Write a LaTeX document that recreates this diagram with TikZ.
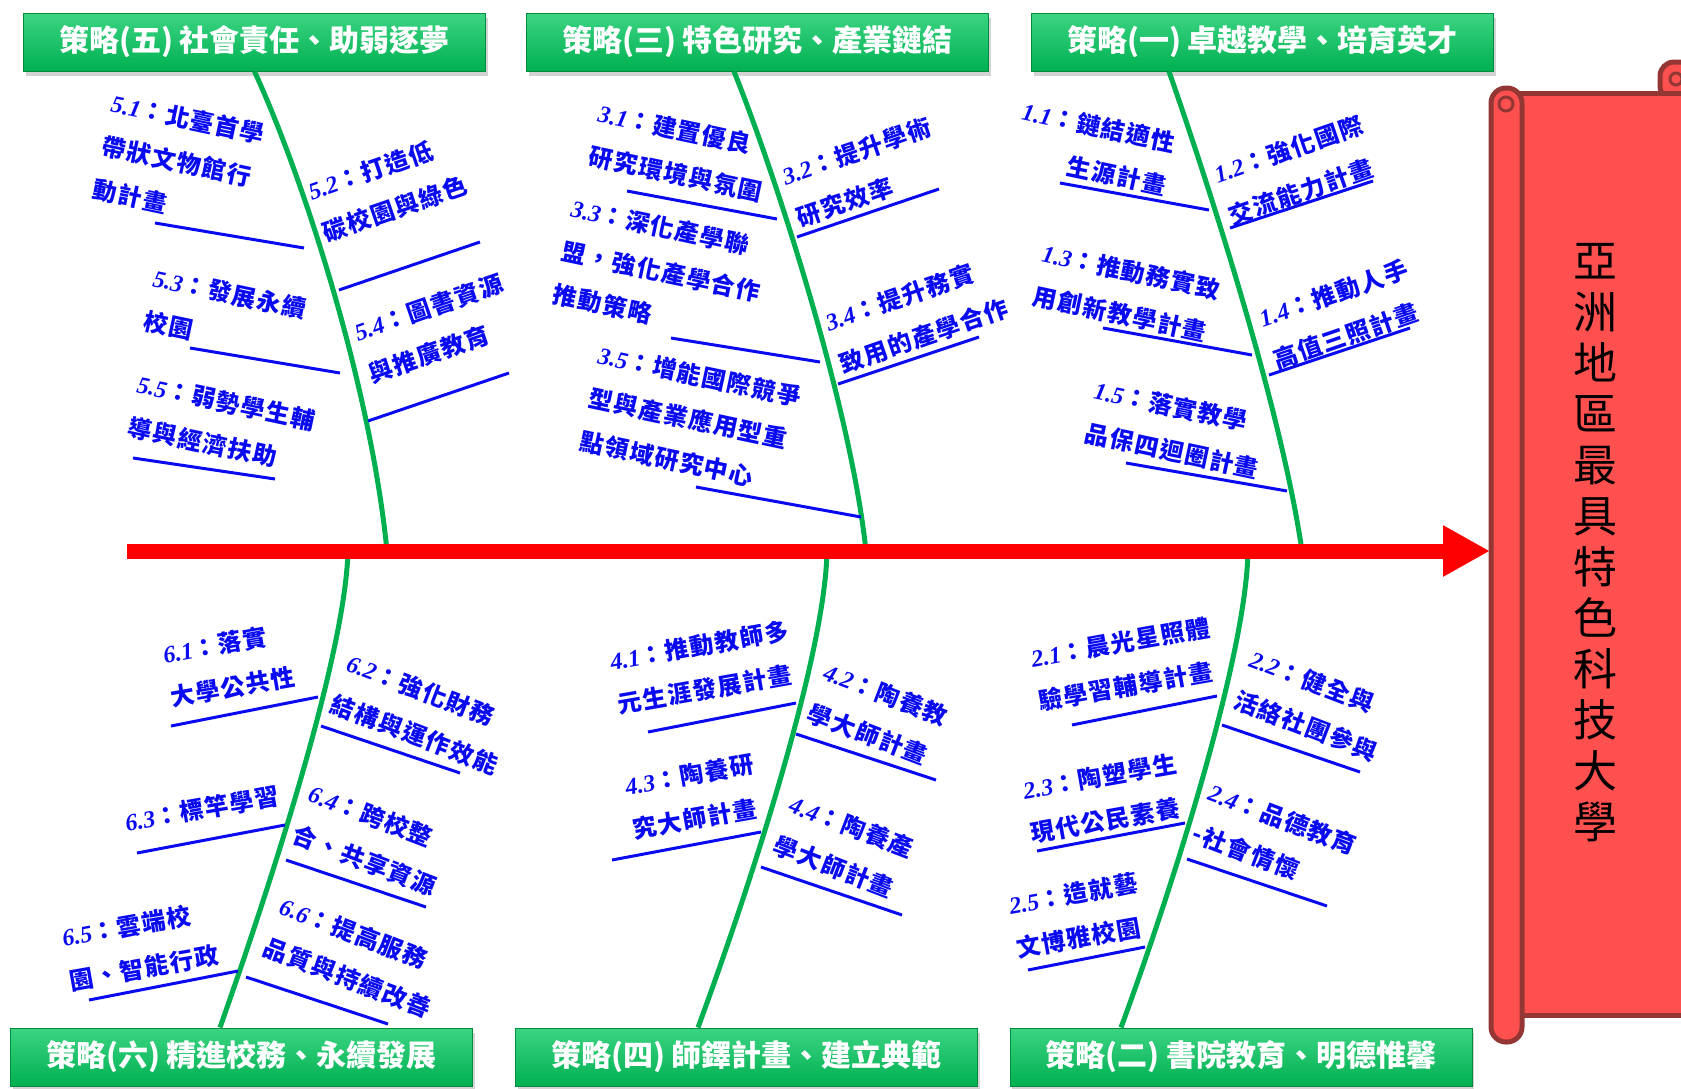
\documentclass[tikz,border=0pt]{standalone}
\usepackage{fontspec}
\usetikzlibrary{arrows.meta,shadows}
\newfontfamily\cjk{Noto Sans CJK TC}
\newfontfamily\cjkesp{Noto Sans CJK TC}[LetterSpace=6]
\newfontfamily\romana{Liberation Serif}
\definecolor{verde}{HTML}{00B050}
\definecolor{verdec}{HTML}{3CD483}
\definecolor{verdeo}{HTML}{008A3E}
\definecolor{azul}{HTML}{0A0AF0}
\definecolor{rojo}{HTML}{FF0000}
\definecolor{rollo}{HTML}{FF5050}
\definecolor{rolloo}{HTML}{943634}
\tikzset{
  estrategia/.style={draw=verdeo,line width=1pt,top color=verdec,bottom color=verde,
    minimum width=462pt,minimum height=58pt,inner sep=0pt,text=white,
    font=\cjk\bfseries\fontsize{30}{30}\selectfont,
    drop shadow={shadow xshift=2pt,shadow yshift=-5pt,opacity=0.35}},
  accion/.style={text=azul,align=left,inner sep=0pt,anchor=north west,
    font=\cjkesp\bfseries\fontsize{24}{44}\selectfont},
  rama/.style={azul,line width=3pt},
  espina/.style={verde,line width=5pt},
}
\newcommand{\accion}[6]{% nombre, x, y, opciones, numero, texto
  \node[accion,#4] (#1) at (#2,#3) {{\romana\bfseries\itshape #5}：#6};}

\begin{document}
\begin{tikzpicture}[x=1pt,y=-1pt]
  \clip (0,0) rectangle (1681,1088);
  % estrategias
  \node[estrategia] (e5) at (254.5,42) {策略(五) 社會責任、助弱逐夢};
  \node[estrategia] (e3) at (757.5,42) {策略(三) 特色研究、產業鏈結};
  \node[estrategia] (e1) at (1262.5,42) {策略(一) 卓越教學、培育英才};
  \node[estrategia] (e6) at (241.5,1057) {策略(六) 精進校務、永續發展};
  \node[estrategia] (e4) at (746.5,1057) {策略(四) 師鐸計畫、建立典範};
  \node[estrategia] (e2) at (1241,1057) {策略(二) 書院教育、明德惟馨};
  % eje
  \coordinate (cola) at (127,551);
  \coordinate (punta) at (1490,551);
  \foreach \n/\x in {b5/387,b3/866,b1/1302,b6/348,b4/827,b2/1248}
    \coordinate (\n) at (\x,551);
  % espinas
  \draw[espina] (e5.south) .. controls (300,170) and (370,380) .. (b5);
  \draw[espina] ([xshift=-23.5pt]e3.south) .. controls (770,160) and (850,400) .. (b3);
  \draw[espina] ([xshift=-93.5pt]e1.south) .. controls (1200,160) and (1280,400) .. (b1);
  \draw[espina] (b6) .. controls (345,660) and (265,900) .. ([xshift=-21.5pt]e6.north);
  \draw[espina] (b4) .. controls (825,660) and (745,900) .. ([xshift=-48.5pt]e4.north);
  \draw[espina] (b2) .. controls (1246,660) and (1168,900) .. ([xshift=-120pt]e2.north);
  \draw[rojo,line width=15pt,-{Triangle[length=47pt,width=48pt]}] (cola) -- (punta);
  % ramas
  \foreach \xa/\ya/\xb/\yb in {155/223/304/248,339/290/480/242,190/348/340/373,368/421/509/373,
      133/458/275/479,627/191/777/219,797/237/939/189,671/338/820/362,838/384/979/337,
      696/487/861/517,1060/183/1209/210,1230/228/1373/181,1103/328/1252/355,1269/375/1410/328,
      1126/463/1287/491,171/726/318/697,321/726/460/773,137/853/285/825,286/860/426/907,
      89/1000/238/971,246/977/388/1024,648/732/796/703,796/734/936/780,612/860/761/832,
      761/867/902/915,1072/725/1217/696,1222/725/1360/772,1037/851/1185/823,1187/859/1327/906,
      1028/970/1145/947}
    \draw[rama] (\xa,\ya) -- (\xb,\yb);
  % acciones, mitad superior
  \accion{a51}{114}{91}{rotate=-12}{5.1}{北臺首學\\帶狀文物館行\\動計畫}
  \accion{a53}{156}{266}{rotate=-12}{5.3}{發展永續\\校園}
  \accion{a55}{140}{372}{rotate=-12}{5.5}{弱勢學生輔\\導與經濟扶助}
  \accion{a52}{305}{181}{rotate=19}{5.2}{打造低\\碳校園與綠色}
  \accion{a54}{351}{322}{rotate=19}{5.4}{圖書資源\\與推廣教育}
  \accion{a31}{601}{101}{rotate=-12}{3.1}{建置優良\\研究環境與氛圍}
  \accion{a33}{574}{196}{rotate=-12}{3.3}{深化產學聯\\盟，強化產學合作\\推動策略}
  \accion{a35}{601}{343}{rotate=-12}{3.5}{增能國際競爭\\型與產業應用型重\\點領域研究中心}
  \accion{a32}{779}{166}{rotate=19}{3.2}{提升學術\\研究效率}
  \accion{a34}{822}{312}{rotate=19}{3.4}{提升務實\\致用的產學合作}
  \accion{a11}{1025}{99}{rotate=-12,align=right}{1.1}{鏈結適性\\生源計畫}
  \accion{a13}{1045}{241}{rotate=-12}{1.3}{推動務實致\\用創新教學計畫}
  \accion{a15}{1097}{378}{rotate=-12}{1.5}{落實教學\\品保四迴圈計畫}
  \accion{a12}{1211}{164}{rotate=19}{1.2}{強化國際\\交流能力計畫}
  \accion{a14}{1256}{308}{rotate=19}{1.4}{推動人手\\高值三照計畫}
  % acciones, mitad inferior
  \accion{a61}{161}{643}{rotate=10}{6.1}{落實\\大學公共性}
  \accion{a63}{123}{811}{rotate=10}{6.3}{標竿學習}
  \accion{a65}{60}{926}{rotate=10}{6.5}{雲端校\\園、智能行政}
  \accion{a62}{352}{651}{rotate=-21}{6.2}{強化財務\\結構與運作效能}
  \accion{a64}{314}{781}{rotate=-21}{6.4}{跨校整\\合、共享資源}
  \accion{a66}{285}{894}{rotate=-21}{6.6}{提高服務\\品質與持續改善}
  \accion{a41}{608}{650}{rotate=10}{4.1}{推動教師多\\元生涯發展計畫}
  \accion{a43}{623}{775}{rotate=10}{4.3}{陶養研\\究大師計畫}
  \accion{a42}{829}{660}{rotate=-21}{4.2}{陶養教\\學大師計畫}
  \accion{a44}{795}{792}{rotate=-21}{4.4}{陶養產\\學大師計畫}
  \accion{a21}{1029}{647}{rotate=10}{2.1}{晨光星照體\\驗學習輔導計畫}
  \accion{a23}{1021}{779}{rotate=10}{2.3}{陶塑學生\\現代公民素養}
  \accion{a25}{1007}{894}{rotate=10}{2.5}{造就藝\\文博雅校園}
  \accion{a22}{1255}{647}{rotate=-21}{2.2}{健全與\\活絡社團參與}
  \accion{a24}{1214}{780}{rotate=-21}{2.4}{品德教育\\-社會情懷}
  % rollo
  \filldraw[fill=rollo,draw=rolloo,line width=5pt,rounded corners=14pt] (1660,100) rectangle (1700,62);
  \draw[rolloo,line width=3pt] (1676,79) circle (6);
  \filldraw[fill=rollo,draw=rolloo,line width=5pt] (1515,93) rectangle (1700,1015);
  \filldraw[fill=rollo,draw=rolloo,line width=5pt,rounded corners=15pt] (1491,88) rectangle (1522,1042);
  \draw[rolloo,line width=3pt] (1506,104) circle (7);
  \node[font=\cjk\fontsize{44}{51}\selectfont,align=center,inner sep=0pt] (meta) at (1595,543)
    {亞\\洲\\地\\區\\最\\具\\特\\色\\科\\技\\大\\學};
\end{tikzpicture}
\end{document}
